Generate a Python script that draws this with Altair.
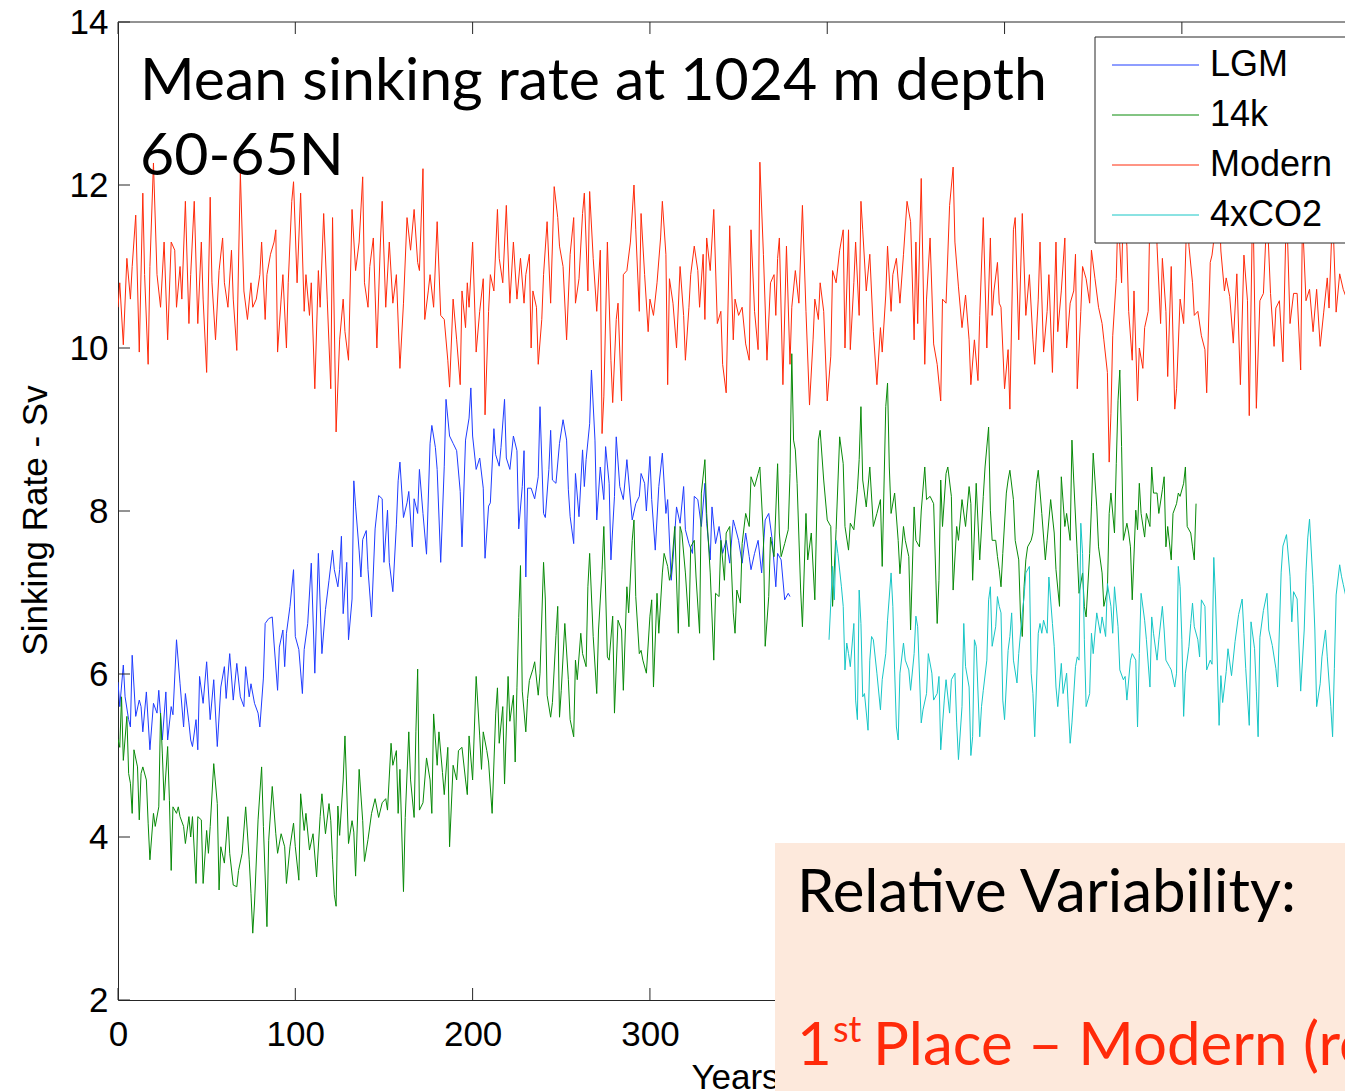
import altair as alt
import pandas as pd

SERIES = ["LGM", "14k", "Modern", "4xCO2"]
COLORS = ["#1f3cff", "#088a08", "#ff2a0a", "#17c6c6"]

LGM_YEAR = [0, 1, 3, 4, 6, 7, 8, 10, 12, 13, 14, 16, 18, 20, 22, 23, 25, 27, 28, 30, 31, 33, 35, 37, 38, 40, 41, 42, 44, 45, 46, 48, 50, 52, 54, 56, 58, 60, 61, 63, 65, 67, 69, 71, 72, 74, 75, 77, 79, 80, 82, 83, 85, 87, 88, 90, 91, 93, 94, 95, 97, 99, 100, 102, 104, 105, 107, 109, 111, 113, 115, 117, 119, 121, 122, 124,
            125, 126, 127, 129, 130, 132, 133, 134, 136, 137, 138, 140, 141, 143, 145, 147, 149, 150, 152, 153, 155, 157, 158, 159, 161, 163, 164, 166, 167, 169, 170, 172, 174, 176, 177, 179, 180, 182, 184, 185, 187, 189, 191, 193, 194, 196, 198, 199, 200, 202, 204, 206, 207, 209, 210, 212, 213, 215, 216, 218, 219, 221, 223, 225, 226, 228, 229, 230, 231, 233, 235, 237, 238, 240, 241, 243,
            244, 245, 247, 249, 251, 253, 254, 255, 257, 258, 260, 262, 263, 264, 266, 267, 269, 270, 272, 274, 275, 277, 278, 280, 281, 283, 285, 287, 288, 290, 292, 294, 295, 297, 298, 300, 301, 303, 305, 307, 309, 310, 312, 313, 315, 317, 319, 320, 322, 324, 325, 327, 329, 331, 332, 334, 335, 337, 339, 341, 343, 345, 347, 348, 350, 352, 354, 356, 357, 359, 361, 363, 365, 367, 369, 371, 372, 374, 376, 378, 379]
LGM_SV = [5.9, 5.6, 6.11, 5.72, 5.44, 5.35, 6.23, 5.48, 5.68, 5.6, 5.29, 5.78, 5.07, 5.64, 5.52, 5.8, 5.19, 5.78, 5.19, 5.6, 5.5, 6.42, 5.88, 5.35, 5.76, 5.4, 5.19, 5.11, 5.44, 5.07, 5.97, 5.64, 6.15, 5.44, 5.93, 5.11, 5.84, 6.09, 5.7, 6.25, 5.68, 6.13, 5.72, 5.6, 6.09, 5.72, 5.88, 5.64, 5.52, 5.35, 5.95, 6.62, 6.68, 6.7, 6.38, 5.8, 6.33, 6.54, 6.09, 6.5, 6.83, 7.28, 6.46, 6.3, 5.76, 6.3, 6.62, 7.36, 6.01, 7.48, 6.25, 6.79, 7.15, 7.52, 7.28, 7.07,
          7.28, 7.69, 6.74, 7.37, 6.42, 6.92, 8.37, 8.06, 7.51, 7.19, 7.65, 7.76, 7.28, 6.7, 7.78, 8.19, 8.15, 7.37, 8.01, 7.37, 7.01, 7.83, 8.37, 8.6, 7.92, 8.1, 8.24, 7.56, 8.15, 7.97, 8.51, 7.97, 7.47, 8.83, 9.05, 8.78, 8.51, 7.37, 8.55, 9.37, 8.92, 8.83, 8.74, 8.24, 7.56, 8.87, 9.14, 9.51, 8.92, 8.51, 8.65, 8.28, 7.42, 8.06, 8.1, 9.01, 8.69, 8.55, 8.78, 9.37, 8.65, 8.51, 8.92, 8.74, 7.78, 8.3, 8.74, 7.19, 8.28, 8.28, 8.15, 8.42, 9.28, 7.97, 7.92, 8.51,
          8.99, 8.38, 8.34, 8.83, 9.12, 8.87, 8.26, 7.93, 7.6, 8.46, 7.93, 8.75, 8.3, 8.63, 9.07, 9.73, 8.87, 7.89, 8.54, 8.14, 8.79, 8.34, 7.4, 8.18, 8.91, 8.3, 8.14, 8.63, 8.38, 7.89, 8.09, 8.18, 8.46, 8.34, 8.0, 8.67, 8.14, 7.52, 8.3, 8.71, 7.97, 8.14, 7.15, 7.4, 8.05, 7.85, 8.3, 7.77, 7.6, 7.48, 8.18, 8.14, 7.81, 8.34, 7.85, 7.4, 8.05, 7.6, 7.81, 7.48, 7.64, 7.36, 7.89, 7.81, 7.64, 7.36, 7.73, 7.44, 7.28, 7.48, 7.64, 7.24, 7.89, 7.97, 7.64, 7.07, 7.48, 7.4, 6.91, 6.99, 6.95]

K14_YEAR = [0, 1, 2, 3, 5, 6, 7, 8, 9, 11, 12, 13, 14, 16, 17, 18, 20, 21, 23, 24, 25, 26, 28, 29, 30, 31, 33, 34, 35, 37, 38, 40, 41, 42, 44, 45, 47, 48, 50, 51, 52, 54, 56, 57, 58, 60, 62, 63, 65, 67, 68, 70, 72, 74, 75, 76, 77, 79, 81, 82, 84, 85, 87, 89, 90, 92, 94, 95, 97, 99, 100, 102, 103, 105, 106, 108, 110, 112, 114, 115, 117, 119,
            120, 121, 122, 123, 124, 125, 127, 128, 130, 132, 133, 134, 136, 138, 139, 141, 143, 145, 147, 149, 151, 152, 154, 155, 157, 158, 159, 161, 162, 164, 165, 167, 168, 169, 170, 172, 174, 176, 177, 178, 180, 181, 183, 184, 186, 187, 189, 191, 192, 194, 196, 197, 198, 200, 202, 204, 205, 206, 208, 209, 211, 213, 214, 215, 217, 218, 220, 221, 223, 224, 225, 226, 227, 228, 230, 231, 232, 234, 235, 237, 238, 240, 241, 242, 244, 245, 247, 248, 249,
            250, 252, 254, 255, 257, 258, 259, 261, 262, 264, 265, 266, 268, 270, 271, 273, 274, 276, 277, 279, 280, 282, 284, 285, 287, 288, 290, 291, 292, 294, 295, 296, 298, 300, 301, 302, 304, 305, 307, 308, 310, 311, 312, 314, 316, 317, 318, 320, 322, 323, 325, 326, 328, 329, 331, 332, 334, 336, 337, 339, 340, 342, 343, 345, 347, 348, 349, 351, 352, 354, 356, 357, 359, 361, 362, 364, 365, 367, 368, 370, 372, 373, 374, 376, 378, 379, 380, 381, 382, 383, 385, 386, 388, 389,
            391, 393, 395, 396, 398, 400, 402, 403, 405, 407, 409, 410, 412, 413, 415, 417, 418, 419, 420, 422, 424, 426, 428, 430, 431, 433, 434, 435, 436, 438, 440, 441, 443, 444, 446, 447, 449, 450, 452, 453, 455, 456, 458, 460, 462, 463, 464, 465, 467, 468, 470, 471, 473, 474, 476, 478, 480, 481, 482, 484, 486, 488, 489, 491, 492, 493, 495, 496, 497,
            498, 499, 501, 502, 503, 505, 506, 508, 509, 510, 511, 512, 513, 515, 516, 518, 519, 521, 523, 524, 526, 528, 529, 531, 532, 534, 535, 537, 538, 539, 541, 542, 544, 545, 546, 548, 549, 550, 552, 553, 555, 556, 558, 559, 560, 562, 563, 564, 565, 566, 567, 569, 570, 571, 572, 574, 575, 576, 577, 579, 580, 582, 583, 584, 586, 587, 589, 590, 591, 592, 594, 595, 597, 598, 599, 601, 602, 603, 605, 606, 607, 608]
K14_SV = [5.2, 5.1, 5.72, 4.94, 5.48, 4.78, 4.66, 4.29, 5.07, 4.86, 4.21, 4.78, 4.86, 4.7, 4.17, 3.72, 4.29, 4.13, 4.37, 5.52, 5.03, 4.45, 5.11, 4.45, 3.59, 4.37, 4.29, 4.37, 4.25, 4.13, 3.92, 4.25, 4.0, 4.25, 3.43, 4.25, 4.21, 3.43, 4.08, 3.8, 4.13, 4.9, 4.41, 3.35, 3.88, 3.68, 4.25, 3.8, 3.41, 3.39, 3.59, 3.8, 4.37, 3.72, 3.31, 2.82, 3.19, 4.21, 4.86, 4.13, 2.9, 3.96, 4.62, 4.04, 3.8, 4.04, 3.88, 3.43, 3.88, 4.17, 3.88, 3.47, 4.53, 4.08, 4.29, 3.84, 4.04, 3.51, 4.25, 4.53, 4.04, 4.41,
          4.2, 3.72, 3.29, 3.15, 4.38, 4.02, 4.7, 5.24, 3.92, 4.2, 4.06, 3.52, 4.83, 4.2, 3.7, 3.97, 4.29, 4.47, 4.24, 4.42, 4.47, 4.33, 5.15, 4.88, 5.06, 4.29, 4.83, 3.33, 4.24, 5.29, 4.7, 4.24, 5.29, 6.06, 4.33, 4.42, 4.97, 4.7, 4.29, 5.51, 4.88, 5.29, 4.79, 4.52, 5.1, 3.88, 4.88, 4.7, 5.06, 5.1, 4.7, 4.52, 5.24, 4.7, 5.97, 5.24, 4.83, 5.29, 5.06, 4.92, 4.29, 5.51, 5.83, 5.15, 5.6, 4.65, 5.97, 5.42, 5.74, 4.92, 5.83, 6.69, 7.33, 5.79, 5.29, 5.7, 5.92, 6.06, 6.15, 5.74, 6.01, 7.37, 6.92, 5.74, 5.47, 5.65, 6.47, 6.83, 5.47,
          5.8, 6.62, 5.93, 5.44, 5.23, 6.17, 5.93, 6.5, 6.25, 6.09, 7.07, 7.48, 6.46, 5.76, 6.54, 7.28, 7.81, 6.21, 6.17, 6.71, 5.52, 6.66, 6.54, 5.8, 7.07, 6.75, 7.64, 7.89, 6.95, 6.25, 6.29, 6.17, 6.01, 6.71, 6.91, 5.84, 6.99, 6.5, 7.24, 7.48, 7.32, 7.15, 7.24, 7.81, 6.5, 7.81, 7.73, 7.24, 6.58, 7.56, 7.64, 7.19, 6.5, 8.22, 8.63, 7.97, 7.24, 6.17, 6.99, 6.95, 7.64, 7.15, 7.73, 7.81, 6.75, 6.5, 7.03, 6.87, 7.6, 7.97, 7.81, 8.42, 8.3, 8.46, 8.54, 7.68, 6.34, 6.95, 7.68, 7.44, 8.58, 7.73, 7.44, 7.6, 7.77, 8.46, 9.93, 8.87, 8.75, 8.34, 7.03, 6.58, 7.97, 7.4,
          7.73, 6.91, 8.87, 8.99, 8.38, 7.89, 7.81, 6.83, 7.77, 8.91, 8.58, 7.81, 7.52, 7.85, 7.77, 8.26, 8.63, 9.28, 8.38, 8.05, 8.54, 7.81, 7.97, 8.14, 7.32, 9.28, 9.57, 8.54, 7.97, 8.22, 7.64, 7.23, 7.81, 7.64, 7.44, 6.54, 8.05, 7.64, 7.56, 8.0, 8.54, 8.14, 8.18, 8.09, 6.62, 7.15, 8.38, 7.81, 8.46, 8.54, 8.18, 7.03, 7.81, 7.64, 8.14, 7.81, 8.3, 8.09, 7.15, 8.34, 7.4, 8.18, 8.54, 9.03, 8.01, 7.64, 7.64, 7.44, 7.28,
          7.07, 7.48, 8.22, 8.38, 8.5, 8.14, 7.64, 7.4, 6.7, 6.46, 7.07, 7.4, 7.56, 7.64, 7.73, 8.34, 8.5, 7.97, 7.4, 7.64, 8.14, 7.73, 7.28, 6.83, 8.42, 7.81, 7.97, 7.64, 8.87, 8.38, 7.48, 6.99, 7.24, 6.83, 6.7, 7.48, 8.05, 8.71, 8.05, 7.56, 7.24, 6.83, 7.03, 7.97, 8.22, 7.73, 8.58, 9.36, 9.73, 8.79, 7.64, 7.85, 7.73, 7.56, 6.91, 8.01, 7.77, 8.34, 7.97, 7.68, 7.97, 7.81, 8.54, 8.22, 8.22, 7.97, 8.26, 8.42, 7.56, 7.81, 7.4, 7.97, 8.09, 8.22, 8.18, 8.34, 8.54, 7.81, 7.73, 7.56, 7.4, 8.09]

MODERN_YEAR = [0, 1, 3, 5, 7, 8, 10, 12, 14, 15, 17, 18, 20, 22, 24, 26, 28, 30, 32, 33, 35, 36, 38, 40, 41, 43, 45, 47, 48, 50, 52, 53, 55, 57, 59, 60, 62, 64, 65, 67, 69, 71, 73, 75, 76, 78, 80, 81, 83, 84, 86, 88, 89, 90, 92, 93, 95, 96, 98, 99, 101, 103, 105, 106, 108, 109, 111, 113, 114, 116, 118, 120, 121, 123,
               125, 127, 128, 130, 132, 134, 136, 138, 139, 141, 142, 144, 146, 148, 149, 151, 153, 155, 157, 159, 161, 163, 165, 167, 169, 170, 172, 173, 175, 176, 178, 180, 182, 184, 186, 187, 189, 191, 193, 194, 196, 197, 198, 200, 202, 204, 206, 207, 209, 210, 212, 214, 215, 217, 219, 221, 223, 225, 227, 229, 230, 232, 233, 234, 236, 237, 239, 240, 242, 244, 246, 248, 249,
               251, 253, 255, 257, 258, 260, 262, 263, 265, 266, 268, 270, 272, 273, 274, 276, 278, 279, 281, 282, 284, 285, 287, 289, 291, 292, 294, 295, 297, 299, 300, 302, 304, 306, 307, 309, 310, 311, 313, 315, 317, 319, 320, 322, 323, 325, 327, 328, 330, 331, 332, 334, 336, 338, 340, 341, 343, 345, 347, 348, 350, 352, 354, 356, 357, 359, 361, 362, 364, 366, 368, 370, 371, 372,
               373, 375, 377, 379, 380, 382, 384, 386, 388, 390, 392, 393, 395, 396, 398, 400, 402, 403, 405, 407, 409, 410, 412, 413, 415, 416, 418, 419, 420, 422, 424, 426, 428, 430, 431, 433, 434, 436, 437, 439, 441, 443, 445, 447, 449, 450, 451, 453, 455, 456, 458, 460, 462, 464, 465, 467, 469, 471, 472, 474, 476, 478, 480, 481, 483, 485, 486, 488, 490, 492, 493, 494, 496, 497,
               498, 500, 502, 503, 505, 506, 508, 510, 512, 514, 516, 517, 519, 520, 522, 524, 525, 527, 529, 530, 532, 534, 535, 537, 539, 540, 541, 543, 544, 546, 548, 549, 551, 553, 555, 556, 558, 559, 560, 561, 563, 564, 566, 567, 569, 570, 572, 573, 575, 576, 578, 579, 581, 582, 583, 585, 586, 588, 589, 591, 592, 594, 596, 597, 599, 601, 603, 604, 606, 607, 609, 611, 613, 614, 616,
               617, 619, 621, 622, 624, 625, 627, 629, 631, 633, 635, 637, 638, 640, 642, 644, 646, 648, 650, 652, 653, 655, 657, 659, 661, 663, 665, 667, 668, 670, 672, 674, 676, 678, 680, 682, 683, 685, 687, 689, 691, 693]
MODERN_SV = [10.5, 10.8, 10.04, 11.1, 10.6, 11.0, 11.63, 9.95, 11.9, 10.9, 9.8, 11.0, 12.27, 10.9, 10.5, 11.3, 10.1, 11.3, 11.2, 10.5, 11.0, 10.6, 11.8, 10.3, 10.9, 11.8, 10.3, 11.3, 10.6, 9.7, 11.85, 10.8, 10.1, 10.95, 11.35, 10.8, 10.5, 11.2, 10.6, 9.97, 12.15, 10.7, 10.35, 10.8, 10.5, 10.6, 10.9, 11.3, 10.35, 10.9, 11.15, 11.3, 11.45, 9.95, 10.6, 10.9, 10.0, 10.8, 11.8, 12.04, 10.8, 11.9, 10.45, 10.9, 10.4, 10.8, 9.5, 10.95, 10.5, 11.65, 10.6, 9.5, 11.6, 8.97,
             10.1, 10.6, 10.2, 9.85, 11.7, 10.95, 11.3, 12.1, 10.8, 10.5, 11.0, 11.35, 10.0, 11.3, 11.8, 10.5, 11.3, 10.55, 10.9, 9.75, 10.55, 11.6, 11.2, 11.7, 11.05, 10.95, 12.2, 10.35, 10.7, 10.9, 10.5, 11.55, 10.4, 10.35, 9.85, 9.52, 10.6, 10.1, 9.55, 10.7, 10.25, 10.8, 10.5, 11.3, 9.95, 10.45, 10.85, 9.18, 10.45, 10.9, 10.7, 11.7, 11.1, 10.8, 11.75, 10.55, 11.3, 10.6, 11.1, 10.55, 10.9, 11.15, 10.0, 10.7, 10.5, 9.8, 10.35, 10.9, 11.55, 10.55, 11.98, 11.6, 11.25,
             11.0, 10.1, 11.15, 11.6, 10.55, 10.85, 11.65, 11.9, 10.7, 11.92, 11.1, 10.45, 11.2, 8.95, 9.4, 11.3, 9.85, 9.33, 10.35, 10.55, 9.35, 10.9, 10.95, 11.3, 12.0, 11.45, 10.45, 11.65, 10.9, 10.2, 10.6, 10.4, 10.8, 11.35, 11.8, 11.15, 9.55, 10.85, 10.55, 10.0, 11.0, 10.4, 9.85, 10.5, 10.9, 11.25, 10.95, 10.5, 11.15, 10.35, 11.35, 10.95, 11.7, 10.3, 10.45, 9.8, 9.45, 11.5, 10.1, 10.6, 10.4, 10.5, 10.05, 9.85, 11.45, 10.45, 9.98, 12.28, 11.15, 9.85, 10.8, 10.9, 10.4, 11.1,
             11.35, 9.55, 11.25, 9.8, 10.5, 10.95, 10.55, 11.75, 10.45, 9.3, 10.1, 10.6, 10.35, 10.8, 10.45, 9.35, 9.9, 10.95, 10.8, 11.2, 11.45, 10.0, 11.45, 9.98, 10.8, 11.3, 10.4, 11.8, 11.45, 10.7, 11.15, 10.2, 9.55, 10.25, 9.95, 10.65, 11.25, 10.45, 10.9, 11.1, 10.55, 11.15, 11.8, 11.55, 10.1, 11.3, 10.3, 12.08, 9.8, 10.6, 11.35, 10.05, 9.8, 9.35, 10.6, 10.55, 11.75, 12.22, 11.3, 10.75, 10.25, 10.65, 10.1, 9.55, 10.1, 9.6, 10.4, 11.6, 10.0, 11.35, 10.4, 10.7, 11.05, 10.55,
             10.5, 9.5, 9.98, 9.25, 11.45, 11.6, 10.1, 11.65, 10.4, 10.9, 10.1, 9.8, 10.6, 11.3, 9.95, 10.45, 10.9, 9.7, 11.3, 10.2, 10.7, 11.35, 10.0, 10.55, 10.7, 11.15, 9.5, 10.45, 11.0, 10.85, 10.55, 11.2, 10.85, 10.5, 10.3, 10.1, 9.7, 8.6, 9.2, 10.15, 10.85, 11.7, 10.8, 11.8, 11.25, 10.45, 9.85, 10.7, 9.35, 10.0, 9.75, 10.25, 10.45, 11.7, 11.3, 11.9, 11.25, 10.3, 11.1, 10.45, 9.65, 11.0, 9.25, 9.5, 10.6, 10.3, 11.8, 11.25, 10.8, 10.4, 10.45, 10.15, 9.98, 9.45, 11.05,
             11.14, 11.5, 11.8, 11.19, 10.7, 10.86, 10.63, 10.06, 10.91, 9.55, 11.14, 10.58, 9.17, 11.9, 9.26, 10.58, 10.67, 11.7, 10.67, 10.02, 10.49, 10.58, 9.83, 11.8, 10.3, 10.67, 10.67, 9.73, 11.6, 10.58, 10.72, 10.2, 10.72, 10.02, 10.44, 10.86, 10.49, 11.7, 10.44, 10.91, 10.72, 10.6]

CO2_YEAR = [401, 402, 403, 404, 405, 406, 408, 409, 410, 411, 412, 413, 415, 416, 417, 418, 419, 420, 421, 423, 424, 425, 426, 428, 430, 431, 433, 434, 436, 437, 438, 439, 440, 441, 443, 444, 446, 447, 449, 450, 451, 453, 454, 456, 457, 459, 460, 462, 463, 464, 466, 467, 469, 470, 472, 473, 474, 476, 477, 478, 480, 481, 482, 483, 484, 486, 487, 488, 490, 491, 492, 493, 495, 496,
            497, 498, 499, 500, 502, 503, 504, 505, 507, 508, 510, 511, 512, 514, 515, 516, 517, 519, 520, 521, 522, 524, 525, 527, 528, 529, 530, 532, 533, 535, 536, 537, 538, 540, 541, 542, 543, 544, 545, 546, 548, 549, 550, 552, 554, 555, 557, 558, 560, 561, 562, 564, 565, 567, 568, 569, 571, 572, 574, 575, 576, 577, 579, 580, 582, 583, 584, 586, 587, 589, 590, 591, 593, 594, 596, 597, 598, 599, 600, 601, 602, 604, 605, 606, 607, 609, 610, 611, 613, 614, 616,
            617, 618, 619, 621, 622, 623, 625, 626, 628, 630, 632, 634, 635, 636, 638, 639, 641, 642, 643, 644, 646, 648, 649, 651, 653, 654, 656, 657, 659, 661, 662, 663, 665, 667, 669, 670, 671, 672, 674, 675, 676, 678, 679, 681, 682, 684, 685, 686, 687, 689, 690, 691, 693]
CO2_SV = [6.42, 6.87, 7.32, 6.91, 7.64, 7.48, 7.07, 6.83, 6.05, 6.38, 6.25, 6.09, 6.62, 5.68, 5.44, 7.03, 6.62, 5.72, 5.76, 5.31, 6.17, 6.46, 6.42, 6.01, 5.56, 5.93, 6.25, 6.66, 7.24, 6.83, 6.05, 5.35, 5.19, 6.01, 6.38, 6.17, 6.05, 5.8, 6.25, 6.71, 6.58, 5.4, 5.56, 5.76, 6.25, 6.01, 5.68, 5.76, 5.97, 5.07, 5.68, 5.93, 5.52, 5.93, 6.01, 5.4, 4.95, 5.6, 6.62, 6.09, 5.84, 5.0, 5.23, 6.42, 6.34, 5.23, 5.6, 5.8, 6.17, 6.91, 7.07, 6.34, 6.58, 6.95,
          6.83, 6.75, 5.68, 5.44, 6.29, 6.46, 6.75, 6.17, 5.89, 6.25, 6.75, 6.95, 7.24, 7.32, 6.01, 5.76, 5.23, 6.5, 6.62, 6.5, 6.66, 6.5, 7.19, 6.62, 6.34, 5.84, 5.6, 6.13, 5.76, 6.01, 5.56, 5.15, 5.4, 6.09, 6.21, 6.17, 7.85, 7.48, 6.42, 5.6, 5.76, 6.5, 6.25, 6.75, 6.5, 6.7, 6.46, 7.11, 6.83, 6.5, 7.07, 6.58, 6.05, 5.93, 5.97, 5.68, 6.17, 6.25, 6.17, 5.35, 6.25, 6.99, 6.66, 6.42, 5.84, 6.7, 6.5, 6.17, 6.42, 6.83, 6.54, 6.17, 6.09, 6.05, 5.84, 6.01, 7.32, 7.07, 6.42, 5.48, 6.01, 6.34, 6.62, 6.87, 6.58, 6.42, 6.21, 6.91, 6.83, 6.05, 6.17,
          6.12, 7.43, 6.92, 5.37, 5.98, 5.65, 6.03, 6.31, 5.98, 6.4, 6.73, 6.92, 6.5, 6.07, 5.37, 6.64, 6.31, 5.79, 5.23, 6.45, 6.78, 6.99, 6.54, 6.35, 6.07, 5.84, 7.25, 7.57, 7.71, 7.2, 6.64, 7.01, 6.92, 5.79, 6.54, 7.25, 7.67, 7.9, 7.1, 6.54, 5.6, 5.88, 6.21, 6.54, 6.21, 5.6, 5.23, 6.07, 6.97, 7.34, 7.2, 7.1, 6.9]

X_TICKS = [0, 100, 200, 300, 400, 500, 600]
X_LABELS = [0, 100, 200, 300]          # 400-600 lie under the annotation box
Y_TICKS = [2, 4, 6, 8, 10, 12, 14]
TITLE_LINES = ["Mean sinking rate at 1024 m depth", "60-65N"]
BOX_TITLE = "Relative Variability:"
BOX_RANK = ["1", "st", "Place \u2013 Modern (red)"]

rows = []
for name, yrs, vals in [("LGM", LGM_YEAR, LGM_SV), ("14k", K14_YEAR, K14_SV),
                        ("Modern", MODERN_YEAR, MODERN_SV), ("4xCO2", CO2_YEAR, CO2_SV)]:
    assert len(yrs) == len(vals), name
    for yr, v in zip(yrs, vals):
        rows.append({"series": name, "year": yr, "sv": v})
df = pd.DataFrame(rows)

W, H = 1227, 978
AXIS_FONT = "Liberation Sans"
TEXT_FONT = "Lato"
AX_COLOR = "#262626"
RED_TEXT = "#ff2a0a"
xs = alt.Scale(domain=[0, 692], nice=False, zero=False)
ys = alt.Scale(domain=[2, 14], nice=False, zero=False)
one = pd.DataFrame({"a": [0]})

x_axis = alt.Axis(
    values=X_LABELS, ticks=False, grid=False, domainColor=AX_COLOR, domainWidth=1,
    labelFont=AXIS_FONT, labelFontSize=35, labelColor="black", labelPadding=17,
    labelFlush=False, labelOverlap=False, labelBaseline="top",
    title="Years", titleFont=AXIS_FONT, titleFontSize=35, titleFontWeight="normal",
    titleColor="black", titleX=617, titleY=88, titleBaseline="alphabetic", titleAlign="center")
y_axis = alt.Axis(
    values=Y_TICKS, ticks=False, grid=False, domainColor=AX_COLOR, domainWidth=1,
    labelFont=AXIS_FONT, labelFontSize=35, labelColor="black", labelPadding=10,
    labelFlush=False, labelOverlap=False, labelBaseline="middle",
    title="Sinking Rate - Sv", titleFont=AXIS_FONT, titleFontSize=35, titleFontWeight="normal",
    titleColor="black", titleX=-72, titleY=498, titleAngle=270, titleBaseline="alphabetic",
    titleAlign="center")

lines = alt.Chart(df).mark_line(strokeWidth=1, clip=True).encode(
    x=alt.X("year:Q", scale=xs, axis=x_axis),
    y=alt.Y("sv:Q", scale=ys, axis=y_axis),
    color=alt.Color("series:N", scale=alt.Scale(domain=SERIES, range=COLORS), legend=None),
    order=alt.Order("year:Q"),
)

tick_y = pd.DataFrame({"year": [0] * len(Y_TICKS), "sv": Y_TICKS})
tick_x = pd.DataFrame({"year": X_TICKS, "sv": [2] * len(X_TICKS)})
ytick = alt.Chart(tick_y).mark_rule(color=AX_COLOR, strokeWidth=1).encode(
    y=alt.Y("sv:Q", scale=ys, axis=y_axis), x=alt.value(0), x2=alt.value(12))
xtick_b = alt.Chart(tick_x).mark_rule(color=AX_COLOR, strokeWidth=1).encode(
    x=alt.X("year:Q", scale=xs, axis=x_axis), y=alt.value(H), y2=alt.value(H - 12))
xtick_t = alt.Chart(tick_x).mark_rule(color=AX_COLOR, strokeWidth=1).encode(
    x=alt.X("year:Q", scale=xs, axis=x_axis), y=alt.value(0), y2=alt.value(12))
top_border = alt.Chart(one).mark_rule(color=AX_COLOR, strokeWidth=1).encode(
    x=alt.value(0), x2=alt.value(W + 30), y=alt.value(0))

def txt(text, x, y, size, color="black", font=TEXT_FONT, baseline="alphabetic"):
    return alt.Chart(one).mark_text(text=text, font=font, fontSize=size, align="left",
                                    baseline=baseline, color=color).encode(
        x=alt.value(x), y=alt.value(y))

title1 = txt(TITLE_LINES[0], 22, 78, 59)
title2 = txt(TITLE_LINES[1], 22, 153, 59)

# legend
leg_layers = [alt.Chart(one).mark_rect(fill="white", stroke=AX_COLOR, strokeWidth=1).encode(
    x=alt.value(977), x2=alt.value(W + 40), y=alt.value(15), y2=alt.value(221))]
for i, (name, col) in enumerate(zip(SERIES, COLORS)):
    yy = 43 + 50 * i
    leg_layers.append(alt.Chart(one).mark_rule(color=col, strokeWidth=1).encode(
        x=alt.value(994), x2=alt.value(1081), y=alt.value(yy)))
    leg_layers.append(txt(name, 1092, yy, 36, font=AXIS_FONT, baseline="middle"))

# annotation box
box = alt.Chart(one).mark_rect(fill="#fde9dc").encode(
    x=alt.value(657), x2=alt.value(W + 40), y=alt.value(821), y2=alt.value(H + 120))
box_t = txt(BOX_TITLE, 679, 890, 60)
rank1 = txt(BOX_RANK[0], 679, 1043, 60, color=RED_TEXT)
rank2 = txt(BOX_RANK[1], 715, 1020, 36, color=RED_TEXT)
rank3 = txt(BOX_RANK[2], 755, 1043, 60, color=RED_TEXT)

chart = alt.layer(lines, ytick, xtick_b, xtick_t, top_border, title1, title2, *leg_layers,
                  box, box_t, rank1, rank2, rank3).properties(
    width=W, height=H,
    autosize=alt.AutoSizeParams(type="none"),
    padding={"left": 118, "top": 22, "right": 0, "bottom": 91},
    background="white",
).configure_view(strokeWidth=0)

chart.save("out.html", embed_options={"renderer": "svg", "actions": False})
